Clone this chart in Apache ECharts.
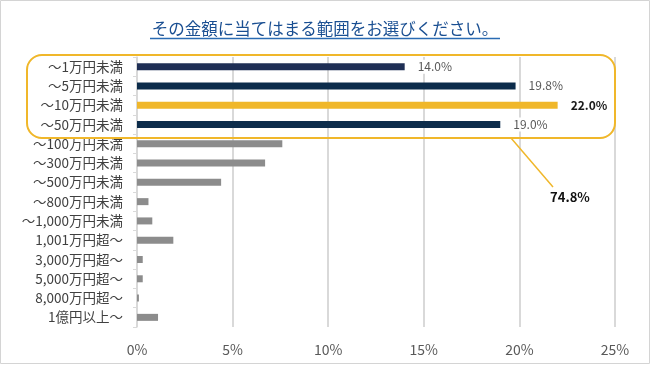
<!DOCTYPE html>
<html>
<head>
<meta charset="utf-8">
<script src="https://cdn.jsdelivr.net/npm/echarts@6/dist/echarts.min.js"></script>
<style>html,body{margin:0;padding:0;background:#fff}#c{width:650px;height:365px}</style>
</head>
<body>
<div id="c"></div>
<script>
const categories = ['～1万円未満','～5万円未満','～10万円未満','～50万円未満','～100万円未満','～300万円未満','～500万円未満','～800万円未満','～1,000万円未満','1,001万円超～','3,000万円超～','5,000万円超～','8,000万円超～','1億円以上～'];
const values = [14.0, 19.8, 22.0, 19.0, 7.6, 6.7, 4.4, 0.6, 0.8, 1.9, 0.3, 0.3, 0.1, 1.1];
const barColors = ['#1f2f55','#0c2c4b','#f0b72a','#0c2c4b','#8c8c8c','#8c8c8c','#8c8c8c','#8c8c8c','#8c8c8c','#8c8c8c','#8c8c8c','#8c8c8c','#8c8c8c','#8c8c8c'];
const labelled = [true, true, true, true, false, false, false, false, false, false, false, false, false, false];
const xTicks = [0, 5, 10, 15, 20, 25];
const title = 'その金額に当てはまる範囲をお選びください。';
const totalLabel = '74.8%';

const font = '"Noto Sans CJK JP", "Noto Sans", sans-serif';
const chart = echarts.init(document.getElementById('c'), null, {renderer: 'canvas'});
const data = values.map((v, i) => ({
  value: v,
  itemStyle: {color: barColors[i]},
  label: {
    show: labelled[i],
    position: 'right',
    distance: 12,
    formatter: p => p.value.toFixed(1) + '%',
    fontFamily: font,
    fontSize: 12,
    color: i === 2 ? '#1a1a1a' : '#595959',
    fontWeight: i === 2 ? 'bold' : 'normal',
    backgroundColor: '#fff',
    padding: [1, 1]
  }
}));
chart.setOption({
  animation: false,
  grid: {left: 137, right: 35, top: 57, bottom: 38, containLabel: false},
  xAxis: {
    type: 'value', min: xTicks[0], max: xTicks[xTicks.length - 1], interval: 5,
    axisLine: {show: false}, axisTick: {show: false},
    splitLine: {show: true, lineStyle: {color: '#d9d9d9', width: 2}},
    axisLabel: {formatter: '{value}%', color: '#595959', fontSize: 14, fontFamily: font, margin: 16}
  },
  yAxis: {
    type: 'category', data: categories, inverse: true,
    axisLine: {show: true, lineStyle: {color: '#d9d9d9', width: 1.5}},
    axisTick: {show: true, length: 4, lineStyle: {color: '#d9d9d9'}},
    axisLabel: {color: '#404040', fontSize: 13.5, fontFamily: font, margin: 14}
  },
  series: [{type: 'bar', data: data, barWidth: 7}],
  graphic: [
    {type: 'rect', shape: {x: 0.5, y: 0.5, width: 649, height: 363}, style: {fill: 'none', stroke: '#d4d4d4', lineWidth: 1}, z: 0, silent: true},
    {type: 'text', x: 325, y: 29, style: {text: title, font: '16.5px ' + font, fill: '#1a4f92', textAlign: 'center', textVerticalAlign: 'middle'}},
    {type: 'line', shape: {x1: 150, y1: 38.5, x2: 500, y2: 38.5}, style: {stroke: '#2a6bb3', lineWidth: 1.3}},
    {type: 'rect', shape: {x: 27, y: 55, width: 588, height: 83, r: 15}, style: {fill: 'none', stroke: '#f0b72a', lineWidth: 2}, z: 100},
    {type: 'line', shape: {x1: 511, y1: 138, x2: 553, y2: 187}, style: {stroke: '#f0b72a', lineWidth: 1.5}, z: 100},
    {type: 'text', x: 570, y: 197, style: {text: totalLabel, font: 'bold 13px ' + font, fill: '#111', textAlign: 'center', textVerticalAlign: 'middle'}, z: 100}
  ]
});
</script>
</body>
</html>
